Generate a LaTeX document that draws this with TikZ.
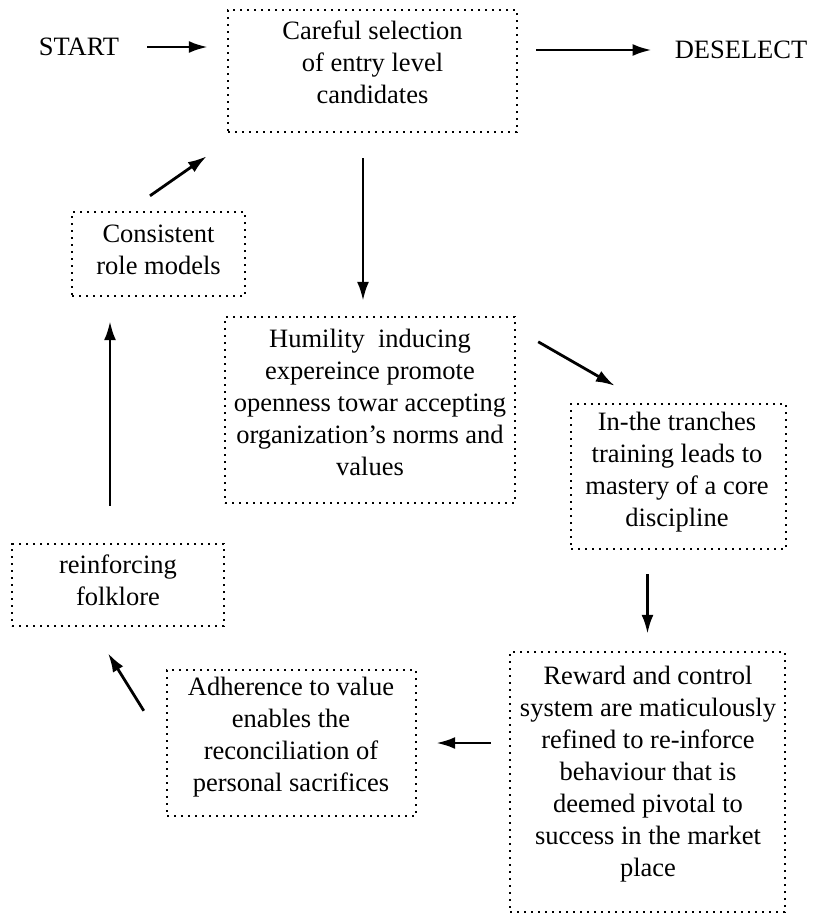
\documentclass[tikz,border=0pt]{standalone}
\usepackage{fontspec}
\setmainfont{Liberation Serif}
\usetikzlibrary{arrows.meta}
\begin{document}
\begin{tikzpicture}[x=1pt,y=-1pt,
  box/.style={draw, line width=2.4pt, dash pattern=on 2.4pt off 4.6pt, inner sep=0pt},
  txt/.style={align=center, inner sep=0pt, font=\fontsize{26.5}{32}\selectfont},
  arr/.style={line width=2.8pt, -{Latex[length=19pt,width=12pt]}}]
\useasboundingbox (0,0) rectangle (819,916);
\fill[white] (0,0) rectangle (819,916);

% boxes
\node[box, minimum width=289pt, minimum height=122pt] (sel) at (372.5,71) {};
\node[txt] (selT) at (372.5,62) {Careful selection\\of entry level\\candidates};

\node[box, minimum width=173pt, minimum height=84pt] (cons) at (158.5,254) {};
\node[txt] (consT) at (158.5,250) {Consistent\\role models};

\node[box, minimum width=290pt, minimum height=186pt] (hum) at (370,410) {};
\node[txt] (humT) at (370,402.5) {Humility\ \ inducing\\expereince promote\\openness towar accepting\\organization’s norms and\\values};

\node[box, minimum width=215pt, minimum height=145pt] (in) at (678.5,476.5) {};
\node[txt] (inT) at (677,472.5) {In-the tranches\\training leads to\\mastery of a core\\discipline};

\node[box, minimum width=275pt, minimum height=260pt] (rew) at (647.5,782) {};
\node[txt] (rewT) at (648,774.5) {Reward and control\\system are maticulously\\refined to re-inforce\\behaviour that is\\deemed pivotal to\\success in the market\\place};

\node[box, minimum width=249pt, minimum height=146pt] (adh) at (291.5,743) {};
\node[txt] (adhT) at (291,737.5) {Adherence to value\\enables the\\reconciliation of\\personal sacrifices};

\node[box, minimum width=212pt, minimum height=82pt] (rein) at (118,585) {};
\node[txt] (reinT) at (118,580) {reinforcing\\folklore};

% labels
\node[txt] (start) at (79,47) {START};
\node[txt] (desel) at (741,50) {DESELECT};

% connectors
\draw[arr, shorten <=28pt, shorten >=19pt] (start.east) -- (start.east -| sel.west);
\draw[arr, shorten <=18pt, shorten >=23pt] (sel.east |- desel.east) -- (desel.west);
\draw[arr, shorten <=25pt, shorten >=15pt] ([xshift=-9.5pt]sel.south) -- ([xshift=-9.5pt]sel.south |- hum.north);
\draw[arr] ([shift={(22,26)}]hum.north east) -- ([shift={(45,-17)}]in.north west);
\draw[arr, shorten <=24pt, shorten >=17pt] (in.south -| rew.north) -- (rew.north);
\draw[arr, shorten <=18pt, shorten >=19pt] (rew.west |- adh.east) -- (adh.east);
\draw[arr] ([shift={(-22,42)}]adh.north west) -- ([shift={(-10,26)}]rein.south);
\draw[arr, shorten <=37pt, shorten >=24pt] ([xshift=-8pt]rein.north) -- ([xshift=-8pt]rein.north |- cons.south);
\draw[arr] ([shift={(-8.5,-15)}]cons.north) -- ([shift={(-20,23)}]sel.south west);
\end{tikzpicture}
\end{document}
